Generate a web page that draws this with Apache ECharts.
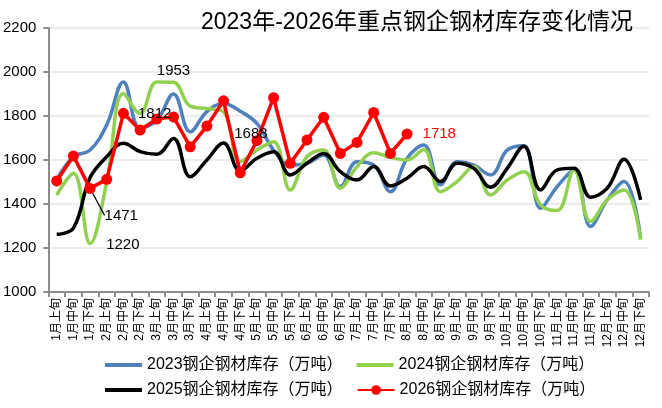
<!DOCTYPE html>
<html>
<head>
<meta charset="utf-8">
<script src="https://cdn.jsdelivr.net/npm/echarts@6/dist/echarts.min.js"></script>
<style>
  html, body { margin: 0; padding: 0; background: #fff; }
  #main { width: 662px; height: 408px; }
</style>
</head>
<body>
<div id="main"></div>
<script>
// categories: 1月上旬 ... 12月下旬
var months = ['1','2','3','4','5','6','7','8','9','10','11','12'];
var parts = ['上旬','中旬','下旬'];
var categories = [];
months.forEach(function (m) {
  parts.forEach(function (p) { categories.push(m + '月' + p); });
});

var seriesNames = [
  '2023钢企钢材库存（万吨）',
  '2024钢企钢材库存（万吨）',
  '2025钢企钢材库存（万吨）',
  '2026钢企钢材库存（万吨）'
];

var stock2023 = [1510, 1615, 1645, 1760, 1955, 1744, 1781, 1900, 1728, 1820, 1857, 1822,
                 1766, 1645, 1577, 1585, 1623, 1479, 1592, 1577, 1456, 1608, 1668, 1487,
                 1592, 1577, 1532, 1645, 1665, 1381, 1479, 1555, 1298, 1419, 1502, 1245];
var stock2024 = [1441, 1540, 1220, 1500, 1902, 1812, 1955, 1953, 1845, 1834, 1819, 1592,
                 1645, 1683, 1464, 1615, 1645, 1472, 1570, 1633, 1612, 1600, 1648, 1456,
                 1502, 1570, 1441, 1509, 1547, 1396, 1370, 1555, 1320, 1419, 1464, 1237];
var stock2025 = [1262, 1290, 1520, 1615, 1676, 1638, 1626, 1698, 1524, 1600, 1677, 1550,
                 1608, 1638, 1532, 1585, 1630, 1547, 1509, 1570, 1482, 1517, 1570, 1502,
                 1585, 1562, 1476, 1562, 1663, 1464, 1555, 1562, 1431, 1472, 1603, 1419];
var stock2026 = [1505, 1618, 1471, 1512, 1812, 1736, 1786, 1796, 1660, 1754, 1869,
                 1542, 1688, 1883, 1585, 1691, 1794, 1630, 1680, 1816, 1630, 1718];

var fontFam = 'Liberation Sans, Noto Sans CJK SC, sans-serif';
var barIcon = 'path://M0,0 L37,0 L37,4 L0,4 Z';

// labelled points
function labelled(arr, idx, label, extra) {
  return arr.map(function (v, i) {
    var j = idx.indexOf(i);
    if (j < 0) return v;
    var item = { value: v, label: label[j] };
    if (extra && extra[j]) {
      for (var k in extra[j]) item[k] = extra[j][k];
    }
    return item;
  });
}

var lblStyle = { show: true, color: '#000', fontSize: 15, fontFamily: fontFam };
// the smooth series have no symbols, a tiny one carries the label
var hiddenDot = { symbol: 'circle', symbolSize: 0.1 };

var greenData = labelled(stock2024, [2, 7], [
  Object.assign({}, lblStyle, { position: 'right', distance: 16, offset: [0, 1] }),
  Object.assign({}, lblStyle, { position: 'top', distance: 4 })
], [hiddenDot, hiddenDot]);

var redData = labelled(stock2026, [2, 4, 12, 21], [
  Object.assign({}, lblStyle, { position: 'right', distance: 6 }),
  Object.assign({}, lblStyle, { position: 'right', distance: 9 }),
  Object.assign({}, lblStyle, { position: 'top', distance: 0 }),
  Object.assign({}, lblStyle, { position: 'right', distance: 10, color: '#ff0000' })
], [
  { labelLine: { show: true, lineStyle: { color: '#000', width: 1.2 } } },
  null, null, null
]);

var chartDom = document.getElementById('main');
var myChart = echarts.init(chartDom);
var option;

option = {
  backgroundColor: '#fff',
  animation: false,
  title: {
    text: '2023年-2026年重点钢企钢材库存变化情况',
    left: 196,
    top: 6,
    textStyle: { fontSize: 23, fontWeight: 'normal', color: '#000', fontFamily: fontFam }
  },
  legend: [
    {
      data: [
        { name: seriesNames[0], icon: barIcon },
        { name: seriesNames[1], icon: barIcon }
      ],
      left: 100, top: 352,
      itemWidth: 37, itemHeight: 12, itemGap: 14,
      textStyle: { fontSize: 16, color: '#000', fontFamily: fontFam }
    },
    {
      data: [
        { name: seriesNames[2], icon: barIcon },
        { name: seriesNames[3] }
      ],
      left: 100, top: 377,
      itemWidth: 37, itemHeight: 12, itemGap: 14,
      textStyle: { fontSize: 16, color: '#000', fontFamily: fontFam }
    }
  ],
  grid: { left: 48, right: 13, top: 28, bottom: 116 },
  xAxis: {
    type: 'category',
    data: categories,
    boundaryGap: true,
    axisLine: { lineStyle: { color: '#8c8c8c', width: 2 } },
    axisTick: { show: true, length: 5, lineStyle: { color: '#8c8c8c', width: 2 } },
    axisLabel: { rotate: 90, interval: 0, fontSize: 12, color: '#000', fontFamily: fontFam, margin: 6 }
  },
  yAxis: {
    type: 'value',
    min: 1000, max: 2200, interval: 200,
    axisLine: { show: true, lineStyle: { color: '#8c8c8c', width: 2 } },
    axisTick: { show: true, length: 5, lineStyle: { color: '#8c8c8c', width: 2 } },
    splitLine: { lineStyle: { color: '#ececec', width: 2 } },
    axisLabel: {
      fontSize: 15, color: '#000', fontFamily: fontFam, margin: 12,
      formatter: function (v) { return String(v); }
    }
  },
  series: [
    {
      name: seriesNames[0], type: 'line', data: stock2023,
      smooth: 0.4, symbol: 'none',
      itemStyle: { color: '#4f81bd' },
      lineStyle: { color: '#4f81bd', width: 3.5 }
    },
    {
      name: seriesNames[1], type: 'line', data: greenData,
      smooth: 0.4, symbol: 'none',
      itemStyle: { color: '#92d050' },
      lineStyle: { color: '#92d050', width: 3.5 }
    },
    {
      name: seriesNames[2], type: 'line', data: stock2025,
      smooth: 0.4, symbol: 'none',
      itemStyle: { color: '#000' },
      lineStyle: { color: '#000', width: 3.5 }
    },
    {
      name: seriesNames[3], type: 'line', data: redData,
      smooth: false, symbol: 'circle', symbolSize: 11,
      itemStyle: { color: '#ff0000' },
      lineStyle: { color: '#ff0000', width: 3.5 },
      labelLayout: function (params) {
        if (params.dataIndex === 2) return { dx: 3, dy: 27 };
        if (params.dataIndex === 12) return { dx: -6, dy: 6 };
        return {};
      }
    }
  ]
};

option && myChart.setOption(option);
window.addEventListener('resize', function () {
  myChart.resize();
});
</script>
</body>
</html>
